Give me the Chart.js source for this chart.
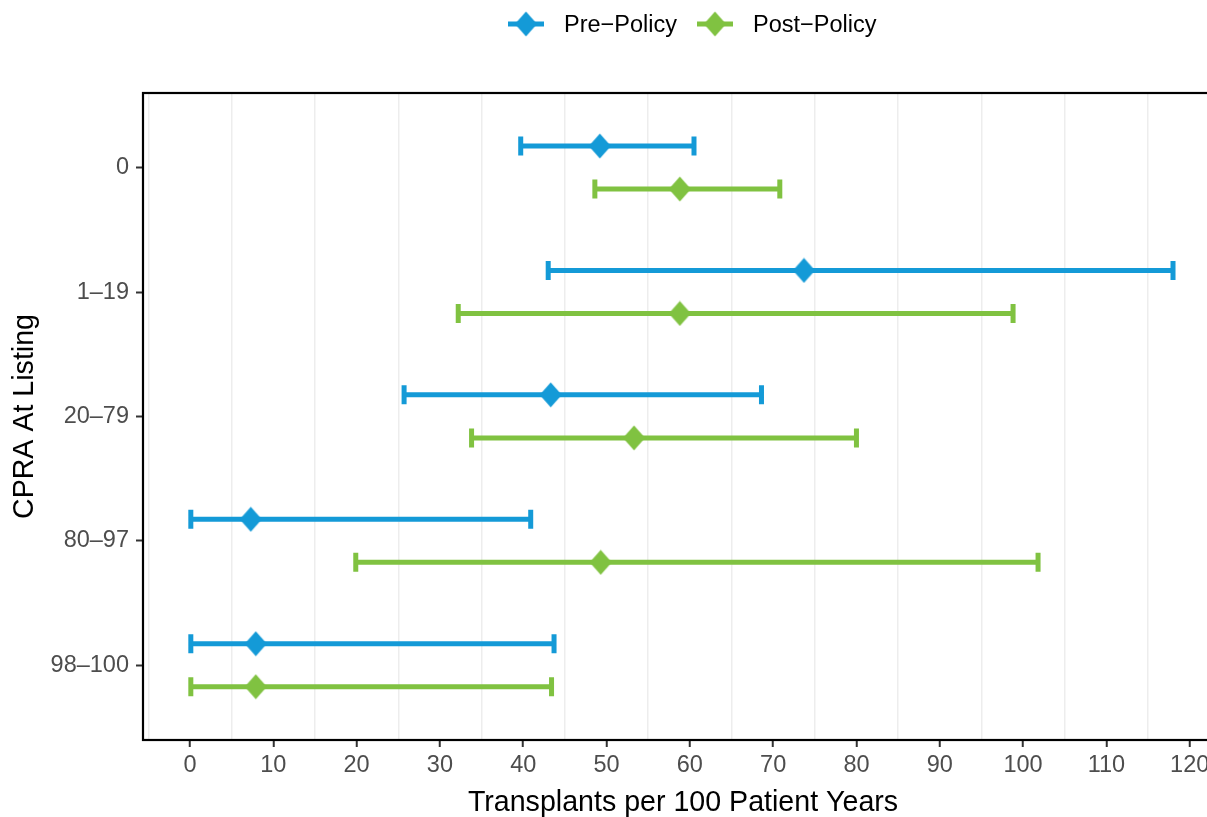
<!DOCTYPE html>
<html>
<head>
<meta charset="utf-8">
<script src="https://cdn.jsdelivr.net/npm/chart.js@4"></script>
<style>
  html, body { margin: 0; padding: 0; background: #fff; overflow: hidden; }
  #wrap { position: relative; width: 1240px; height: 817px; }
  #legend { position: absolute; left: 508px; top: 11px; height: 26px; display: flex; align-items: center;
    font-family: "Liberation Sans", Arial, sans-serif; font-size: 23.5px; color: #000; }
  #legend .item { display: flex; align-items: center; margin-right: 20px; }
  #legend canvas { margin-right: 20px; }
</style>
</head>
<body>
<div id="wrap">
  <div id="legend"></div>
  <canvas id="chart"></canvas>
</div>
<script>
// Categorias (eixo Y) e valores
const categories = ['0', '1\u201319', '20\u201379', '80\u201397', '98\u2013100'];
const seriesNames = ['Pre\u2212Policy', 'Post\u2212Policy'];

const preRate = [49.2, 73.7, 43.3, 7.3, 7.9];
const preLow  = [39.7, 43.0, 25.7, 0.1, 0.1];
const preHigh = [60.5, 118.0, 68.6, 40.9, 43.7];

const postRate = [58.8, 58.8, 53.3, 49.3, 7.9];
const postLow  = [48.6, 32.2, 33.8, 19.9, 0.1];
const postHigh = [70.8, 98.8, 80.0, 101.8, 43.4];

const xTicks = [-5, 0, 5, 10, 15, 20, 25, 30, 35, 40, 45, 50, 55, 60, 65, 70, 75, 80, 85, 90, 95, 100, 105, 110, 115, 120];

const colors = ['#149ad7', '#80c241'];
const FONT = '"Liberation Sans", Arial, sans-serif';

// diamante (losango) um pouco mais alto que largo, como no ggplot
function diamond(color) {
  const c = document.createElement('canvas');
  c.width = 23; c.height = 26;
  const g = c.getContext('2d');
  g.fillStyle = color;
  g.beginPath();
  g.moveTo(11.5, 0.5); g.lineTo(22.5, 13); g.lineTo(11.5, 25.5); g.lineTo(0.5, 13);
  g.closePath(); g.fill();
  return c;
}

function legendKey(color) {
  const c = document.createElement('canvas');
  c.width = 36; c.height = 26;
  const g = c.getContext('2d');
  g.fillStyle = color;
  g.fillRect(0, 10.5, 36, 5);
  g.drawImage(diamond(color), 6.5, 0);
  return c;
}

function makeData(rate, lo, hi, off) {
  return rate.map((v, i) => ({ x: v, y: i + off, lo: lo[i], hi: hi[i] }));
}

const errorBars = {
  id: 'errorBars',
  beforeDatasetsDraw(chart) {
    const { ctx, scales: { x, y } } = chart;
    chart.data.datasets.forEach(ds => {
      ctx.save();
      ctx.strokeStyle = ds.borderColor;
      ctx.lineWidth = 5;
      ds.data.forEach(p => {
        const x0 = x.getPixelForValue(p.lo);
        const x1 = x.getPixelForValue(p.hi);
        const yy = y.getPixelForValue(p.y);
        ctx.beginPath();
        ctx.moveTo(x0, yy); ctx.lineTo(x1, yy);
        ctx.moveTo(x0, yy - 9.5); ctx.lineTo(x0, yy + 9.5);
        ctx.moveTo(x1, yy - 9.5); ctx.lineTo(x1, yy + 9.5);
        ctx.stroke();
      });
      ctx.restore();
    });
  }
};

const panelBorder = {
  id: 'panelBorder',
  afterDraw(chart) {
    const { ctx, chartArea: a } = chart;
    ctx.save();
    ctx.strokeStyle = '#000';
    ctx.lineWidth = 2.2;
    ctx.strokeRect(a.left, a.top, a.right - a.left, a.bottom - a.top);
    ctx.restore();
  }
};

const offsets = [-0.174, 0.172];
const datasets = [
  { label: seriesNames[0], data: makeData(preRate, preLow, preHigh, offsets[0]) },
  { label: seriesNames[1], data: makeData(postRate, postLow, postHigh, offsets[1]) }
].map((ds, i) => Object.assign(ds, {
  borderColor: colors[i],
  backgroundColor: colors[i],
  pointStyle: diamond(colors[i]),
  pointRadius: 11,
  pointHoverRadius: 11
}));

// legenda em HTML
const legend = document.getElementById('legend');
datasets.forEach(ds => {
  const item = document.createElement('div');
  item.className = 'item';
  item.appendChild(legendKey(ds.borderColor));
  const s = document.createElement('span');
  s.textContent = ds.label;
  item.appendChild(s);
  legend.appendChild(item);
});

new Chart(document.getElementById('chart'), {
  type: 'scatter',
  data: { datasets },
  options: {
    responsive: true,
    maintainAspectRatio: false,
    animation: false,
    layout: { padding: { top: 93, right: 17, left: 0, bottom: 0 } },
    plugins: { legend: { display: false }, tooltip: { enabled: false } },
    scales: {
      x: {
        type: 'linear',
        min: -5.64,
        max: 124,
        afterBuildTicks: s => { s.ticks = xTicks.map(v => ({ value: v })); },
        afterFit: s => { s.height = 77; },
        border: { display: false },
        grid: {
          color: c => (c.tick && c.tick.value % 10 !== 0) ? '#ededed' : 'rgba(0,0,0,0)',
          tickColor: c => (c.tick && c.tick.value % 10 === 0) ? '#333' : 'rgba(0,0,0,0)',
          lineWidth: 1.5,
          tickWidth: 2,
          tickLength: 7
        },
        ticks: {
          autoSkip: false,
          maxRotation: 0,
          padding: 4,
          color: '#4d4d4d',
          font: { family: FONT, size: 23.5 },
          callback: v => (v % 10 === 0 && v >= 0) ? String(v) : ''
        },
        title: {
          display: true,
          text: 'Transplants per 100 Patient Years',
          color: '#000',
          font: { family: FONT, size: 28.6, lineHeight: 1 },
          padding: { top: 0, bottom: 0 }
        }
      },
      y: {
        type: 'linear',
        reverse: true,
        min: -0.6,
        max: 4.6,
        afterBuildTicks: s => { s.ticks = categories.map((c, i) => ({ value: i })); },
        afterFit: s => { s.width = 143; },
        border: { display: false },
        grid: {
          drawOnChartArea: false,
          tickColor: '#333',
          tickWidth: 2,
          tickLength: 7
        },
        ticks: {
          autoSkip: false,
          padding: 7,
          color: '#4d4d4d',
          font: { family: FONT, size: 23.5 },
          callback: v => categories[v]
        },
        title: {
          display: true,
          text: 'CPRA At Listing',
          color: '#000',
          font: { family: FONT, size: 28.6, lineHeight: 1 },
          padding: { top: 11, bottom: 0 }
        }
      }
    }
  },
  plugins: [errorBars, panelBorder]
});
</script>
</body>
</html>
